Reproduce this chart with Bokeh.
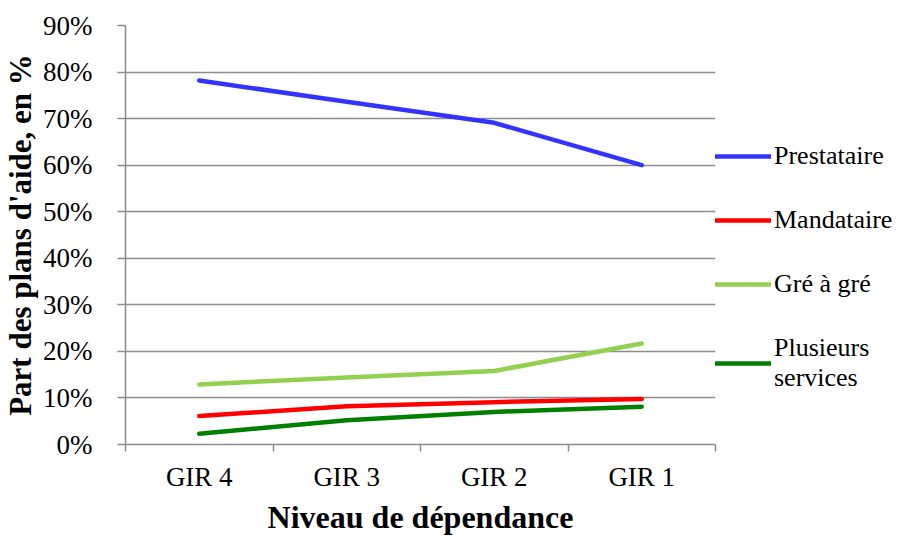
from bokeh.plotting import figure
from bokeh.models import (FixedTicker, Range1d, Legend, LegendItem, PrintfTickFormatter)
from bokeh.embed import file_html
from bokeh.resources import INLINE

categories = ["GIR 4", "GIR 3", "GIR 2", "GIR 1"]
prestataire = [78.2, 73.6, 69.1, 60.0]
mandataire = [6.1, 8.2, 9.1, 9.8]
gre_a_gre = [12.9, 14.4, 15.8, 21.7]
plusieurs = [2.3, 5.2, 7.0, 8.1]
series_names = ["Prestataire", "Mandataire", "Gré à gré", "Plusieurs\nservices"]
series_colors = ["#3333FF", "#FF0000", "#92D050", "#008000"]
y_ticks = [0, 10, 20, 30, 40, 50, 60, 70, 80, 90]

FONT = "Liberation Serif"
GRID = "#8C8C8C"

xs = [i + 0.5 for i in range(len(categories))]

p = figure(frame_width=590, frame_height=419, output_backend="svg", toolbar_location=None,
           x_range=Range1d(0, len(categories)), y_range=Range1d(0, 90),
           min_border_left=123, min_border_right=190, min_border_top=25, min_border_bottom=92)
p.outline_line_color = None
p.background_fill_color = "white"
p.border_fill_color = "white"

renderers = []
for vals, col in zip([prestataire, mandataire, gre_a_gre, plusieurs], series_colors):
    r = p.line(xs, vals, line_color=col, line_width=4.5, line_cap="round", line_join="round")
    renderers.append(r)

# x axis
p.xaxis.ticker = FixedTicker(ticks=xs, minor_ticks=list(range(len(categories) + 1)))
p.xaxis.major_label_overrides = {x: c for x, c in zip(xs, categories)}
p.xaxis.major_tick_line_color = None
p.xaxis.minor_tick_line_color = GRID
p.xaxis.minor_tick_line_width = 1.5
p.xaxis.minor_tick_in = 0
p.xaxis.minor_tick_out = 7
p.xaxis.axis_line_color = GRID
p.xaxis.axis_line_width = 1.5
p.xaxis.major_label_text_font = FONT
p.xaxis.major_label_text_font_size = "27px"
p.xaxis.major_label_text_color = "black"
p.xaxis.major_label_standoff = 10
p.xaxis.axis_label = "Niveau de dépendance"
p.xaxis.axis_label_text_font = FONT
p.xaxis.axis_label_text_font_style = "bold"
p.xaxis.axis_label_text_font_size = "32px"
p.xaxis.axis_label_text_color = "black"
p.xaxis.axis_label_standoff = 4

# y axis
p.yaxis.ticker = FixedTicker(ticks=y_ticks)
p.yaxis.formatter = PrintfTickFormatter(format="%d%%")
p.yaxis.minor_tick_line_color = None
p.yaxis.major_tick_line_color = GRID
p.yaxis.major_tick_line_width = 1.5
p.yaxis.major_tick_in = 0
p.yaxis.major_tick_out = 8
p.yaxis.axis_line_color = GRID
p.yaxis.axis_line_width = 1.5
p.yaxis.major_label_text_font = FONT
p.yaxis.major_label_text_font_size = "27px"
p.yaxis.major_label_text_color = "black"
p.yaxis.major_label_standoff = 25
p.yaxis.axis_label = "Part des plans d'aide, en %"
p.yaxis.axis_label_text_font = FONT
p.yaxis.axis_label_text_font_style = "bold"
p.yaxis.axis_label_text_font_size = "31px"
p.yaxis.axis_label_text_color = "black"
p.yaxis.axis_label_standoff = 2

p.xgrid.grid_line_color = None
p.ygrid.grid_line_color = GRID
p.ygrid.grid_line_width = 1.5

legend = Legend(items=[LegendItem(label=n, renderers=[r]) for n, r in zip(series_names, renderers)],
                location="top_left", padding=9, margin=0, border_line_color=None,
                background_fill_alpha=0, glyph_width=56, glyph_height=30, label_height=30,
                spacing=34, label_standoff=3, label_text_font=FONT,
                label_text_font_size="26px", label_text_color="black",
                title=" ", title_text_font_size="10px", title_standoff=105)
p.add_layout(legend, "right")

open("out.html", "w").write(file_html(p, INLINE))
